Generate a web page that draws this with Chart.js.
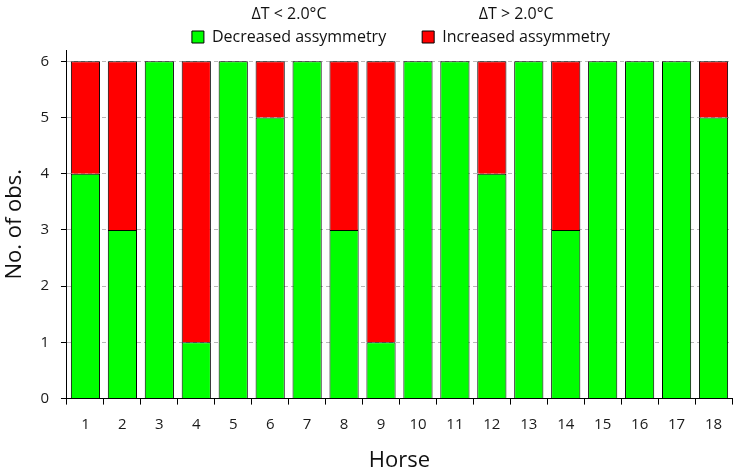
<!DOCTYPE html>
<html lang="en">
<head>
  <meta charset="UTF-8" />
  <title>Asymmetry per horse</title>
  <script src="https://cdn.jsdelivr.net/npm/chart.js"></script>
  <style>
    body { margin: 0; background: #fff; }
    #wrap { width: 740px; height: 470px; }
  </style>
</head>
<body>
  <div id="wrap"><canvas id="chart"></canvas></div>

  <script>
    const horses = ['1', '2', '3', '4', '5', '6', '7', '8', '9', '10', '11', '12', '13', '14', '15', '16', '17', '18'];
    const decreased = [4, 3, 6, 1, 6, 5, 6, 3, 1, 6, 6, 4, 6, 3, 6, 6, 6, 5];
    const increased = [2, 3, 0, 5, 0, 1, 0, 3, 5, 0, 0, 2, 0, 3, 0, 0, 0, 1];
    const seriesNames = ['Decreased assymmetry', 'Increased assymmetry'];
    const seriesHeaders = ['\u0394T < 2.0\u00B0C', '\u0394T > 2.0\u00B0C'];
    const yTicks = [0, 1, 2, 3, 4, 5, 6];

    const FONT = "'Open Sans', 'Noto Sans', sans-serif";

    // ΔT line above each legend entry + nudge legend right/down
    const legendHeaders = {
      id: 'legendHeaders',
      afterLayout(chart) {
        const lg = chart.legend;
        lg.left += 36;
        lg.right += 36;
        lg.top += 5;
        lg.bottom += 5;
      },
      afterDraw(chart) {
        const boxes = chart.legend.legendHitBoxes || [];
        const ctx = chart.ctx;
        ctx.save();
        ctx.font = '16px ' + FONT;
        ctx.fillStyle = '#111';
        ctx.textAlign = 'center';
        ctx.textBaseline = 'middle';
        boxes.forEach((b, i) => {
          ctx.fillText(seriesHeaders[i], b.left + b.width / 2, b.top + b.height / 2 - 23);
        });
        ctx.restore();
      }
    };

    new Chart(document.getElementById('chart'), {
      type: 'bar',
      data: {
        labels: horses,
        datasets: [
          { label: seriesNames[0], data: decreased, backgroundColor: '#00ff00', borderColor: '#000', borderWidth: 1,
            barPercentage: 0.79, categoryPercentage: 1 },
          { label: seriesNames[1], data: increased, backgroundColor: '#ff0000', borderColor: '#000', borderWidth: 1,
            barPercentage: 0.79, categoryPercentage: 1 }
        ]
      },
      options: {
        responsive: true,
        maintainAspectRatio: false,
        animation: false,
        layout: { padding: { left: -2, right: 8, top: -12, bottom: -4 } },
        plugins: {
          legend: {
            position: 'top',
            labels: {
              font: { family: FONT, size: 16 },
              color: '#111',
              boxWidth: 12,
              boxHeight: 12,
              padding: 36
            },
            padding: { top: 16, bottom: 0 }
          },
          tooltip: { enabled: false }
        },
        scales: {
          x: {
            stacked: true,
            offset: true,
            border: { color: '#000', width: 1 },
            grid: { offset: true, drawOnChartArea: false, color: '#000', tickLength: 6 },
            ticks: { font: { family: FONT, size: 15 }, color: '#1a1a1a', padding: 11 },
            title: { display: true, text: 'Horse', font: { family: FONT, size: 22 }, color: '#111', padding: { top: 3, bottom: 0 } }
          },
          y: {
            stacked: true,
            min: 0,
            max: 6.2,
            afterBuildTicks: (axis) => { axis.ticks = yTicks.map(v => ({ value: v })); },
            border: { color: '#000', width: 1, dash: [4, 3] },
            grid: { color: '#b8b8b8', tickColor: '#000', tickBorderDash: [], tickLength: 6 },
            ticks: { font: { family: FONT, size: 15 }, color: '#1a1a1a', padding: 12 },
            title: { display: true, text: 'No. of obs.', font: { family: FONT, size: 22 }, color: '#111', padding: { bottom: 0 } }
          }
        }
      },
      plugins: [legendHeaders]
    });
  </script>
</body>
</html>
